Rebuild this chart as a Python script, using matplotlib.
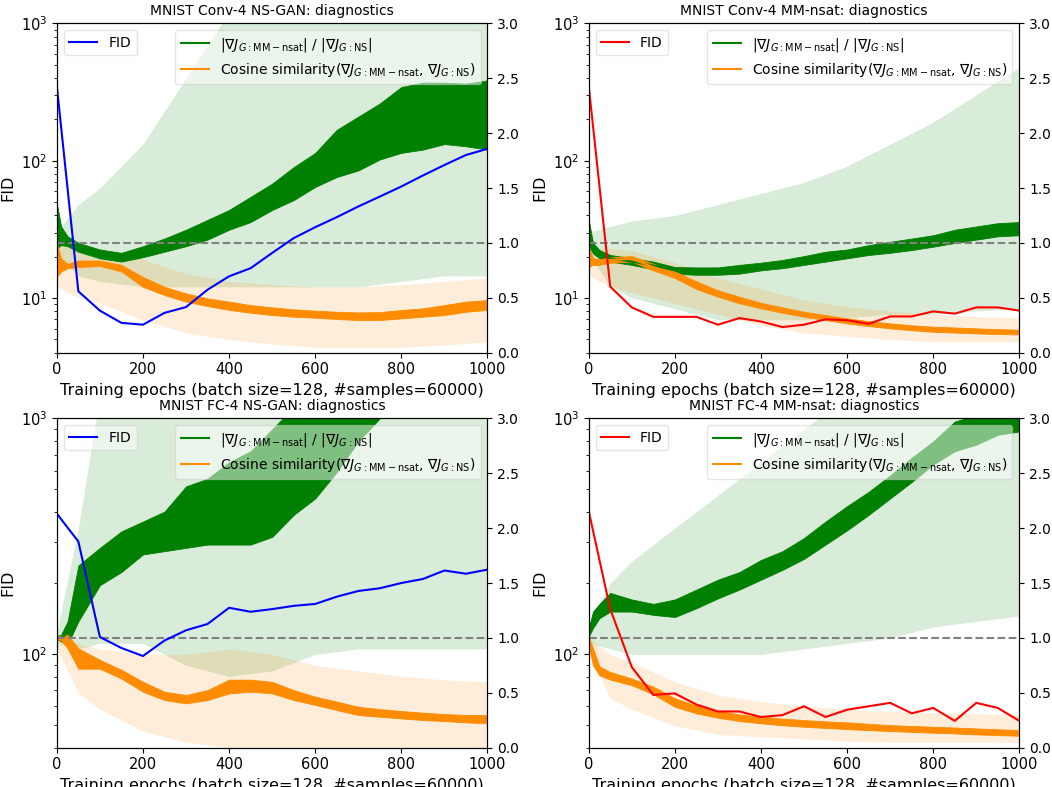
import numpy as np
import matplotlib
matplotlib.use("Agg")
import matplotlib.pyplot as plt
import matplotlib.gridspec as gridspec

# ── FID, evaluated every 50 epochs ──
FID_EPOCHS = [0, 50, 100, 150, 200, 250, 300, 350, 400, 450, 500,
              550, 600, 650, 700, 750, 800, 850, 900, 950, 1000]
FID_CONV_NS = [350, 11.2, 8.1, 6.6, 6.4, 7.8, 8.6, 11.5, 14.4, 16.5, 21.3,
               27.3, 32.8, 38.8, 46.4, 54.8, 64.9, 78, 93, 110, 122]
FID_CONV_MM = [350, 12.1, 8.55, 7.3, 7.3, 7.3, 6.4, 7.15, 6.75, 6.15, 6.4,
               7.0, 6.9, 6.5, 7.35, 7.35, 8.0, 7.7, 8.55, 8.55, 8.1]
FID_FC_NS = [394, 300, 118, 106, 98, 114, 126, 134, 157, 151, 155,
             160, 163, 175, 185, 190, 200, 208, 226, 219, 228]
FID_FC_MM = [404, 155, 88, 67, 68, 61, 57, 57, 54, 55, 60,
             54, 58, 60, 62, 56, 59, 52, 62, 59, 52]

# ── gradient diagnostics: spread of the per-iteration curves (low / high edge) ──
BAND_EPOCHS = [0, 10, 25, 50, 100, 150, 200, 250, 300, 350, 400, 450,
               500, 550, 600, 650, 700, 750, 800, 850, 900, 950, 1000]

RATIO_CONV_NS_LO = [0.95, 0.98, 0.97, 0.92, 0.86, 0.83, 0.87, 0.92, 0.97, 1.03, 1.12, 1.19,
                    1.30, 1.39, 1.51, 1.60, 1.66, 1.76, 1.82, 1.85, 1.90, 1.88, 1.85]
RATIO_CONV_NS_HI = [1.36, 1.15, 1.06, 1.00, 0.94, 0.91, 0.97, 1.04, 1.12, 1.21, 1.30, 1.42,
                    1.54, 1.69, 1.82, 2.03, 2.15, 2.27, 2.42, 2.46, 2.46, 2.45, 2.48]
COS_CONV_NS_LO = [0.69, 0.74, 0.77, 0.78, 0.79, 0.74, 0.60, 0.525, 0.465, 0.425, 0.39, 0.364,
                  0.343, 0.328, 0.319, 0.307, 0.298, 0.298, 0.313, 0.328, 0.343, 0.373, 0.39]
COS_CONV_NS_HI = [1.00, 0.86, 0.81, 0.84, 0.84, 0.80, 0.69, 0.60, 0.54, 0.495, 0.465, 0.434,
                  0.413, 0.395, 0.383, 0.373, 0.367, 0.37, 0.389, 0.404, 0.434, 0.465, 0.48]

RATIO_CONV_MM_LO = [0.97, 0.905, 0.86, 0.83, 0.80, 0.76, 0.72, 0.71, 0.71, 0.72, 0.75, 0.77,
                    0.80, 0.83, 0.86, 0.89, 0.91, 0.935, 0.966, 1.00, 1.03, 1.06, 1.07]
RATIO_CONV_MM_HI = [1.21, 1.00, 0.935, 0.89, 0.86, 0.83, 0.78, 0.777, 0.777, 0.80, 0.82, 0.845,
                    0.88, 0.92, 0.94, 0.98, 1.01, 1.04, 1.07, 1.12, 1.15, 1.18, 1.19]
COS_CONV_MM_LO = [0.78, 0.80, 0.80, 0.82, 0.83, 0.75, 0.68, 0.58, 0.51, 0.45, 0.404, 0.364,
                  0.328, 0.298, 0.267, 0.243, 0.222, 0.205, 0.191, 0.183, 0.176, 0.17, 0.167]
COS_CONV_MM_HI = [0.97, 0.86, 0.85, 0.87, 0.88, 0.81, 0.74, 0.65, 0.57, 0.51, 0.455, 0.413,
                  0.373, 0.343, 0.313, 0.288, 0.267, 0.25, 0.237, 0.23, 0.222, 0.215, 0.21]

RATIO_FC_NS_LO = [0.99, 0.97, 0.94, 1.15, 1.48, 1.60, 1.76, 1.79, 1.82, 1.85, 1.85, 1.85,
                  1.92, 2.12, 2.27, 2.51, 2.79, 3.00, 3.10, 3.20, 3.30, 3.40, 3.50]
RATIO_FC_NS_HI = [1.02, 1.03, 1.15, 1.66, 1.82, 1.97, 2.06, 2.15, 2.38, 2.45, 2.60, 2.70,
                  2.90, 3.10, 3.20, 3.30, 3.40, 3.50, 3.60, 3.70, 3.80, 3.90, 4.00]
COS_FC_NS_LO = [0.99, 0.98, 0.905, 0.72, 0.72, 0.63, 0.51, 0.434, 0.404, 0.434, 0.495, 0.51,
                0.495, 0.434, 0.39, 0.343, 0.298, 0.282, 0.267, 0.252, 0.243, 0.231, 0.222]
COS_FC_NS_HI = [1.02, 1.02, 1.03, 0.905, 0.80, 0.71, 0.60, 0.51, 0.48, 0.525, 0.62, 0.62,
                0.60, 0.525, 0.465, 0.42, 0.373, 0.352, 0.334, 0.319, 0.307, 0.298, 0.298]

RATIO_FC_MM_LO = [1.01, 1.09, 1.18, 1.24, 1.24, 1.21, 1.19, 1.27, 1.36, 1.44, 1.53, 1.62,
                  1.72, 1.85, 1.98, 2.12, 2.27, 2.42, 2.58, 2.70, 2.76, 2.85, 2.88]
RATIO_FC_MM_HI = [1.09, 1.24, 1.31, 1.41, 1.35, 1.31, 1.35, 1.44, 1.53, 1.60, 1.71, 1.79,
                  1.91, 2.06, 2.20, 2.33, 2.48, 2.64, 2.79, 2.97, 3.03, 3.05, 3.10]
COS_FC_MM_LO = [0.935, 0.75, 0.66, 0.62, 0.57, 0.486, 0.373, 0.313, 0.273, 0.243, 0.222, 0.205,
                0.191, 0.18, 0.17, 0.16, 0.152, 0.144, 0.137, 0.13, 0.121, 0.115, 0.109]
COS_FC_MM_HI = [1.01, 0.905, 0.74, 0.69, 0.63, 0.556, 0.45, 0.383, 0.334, 0.304, 0.282, 0.265,
                0.252, 0.24, 0.231, 0.218, 0.206, 0.198, 0.191, 0.184, 0.176, 0.168, 0.161]

# ── mean +/- std shading ──
SHADE_EPOCHS = [0, 50, 100, 200, 300, 400, 500, 600, 700, 800, 900, 1000]

RSTD_CONV_NS_LO = [0.9, 0.7, 0.65, 0.6, 0.6, 0.6, 0.6, 0.6, 0.6, 0.65, 0.7, 0.7]
RSTD_CONV_NS_HI = [1.1, 1.35, 1.5, 1.9, 2.5, 3.1, 3.5, 3.5, 3.5, 3.5, 3.5, 3.5]
CSTD_CONV_NS_LO = [0.6, 0.5, 0.45, 0.3, 0.18, 0.12, 0.08, 0.05, 0.05, 0.05, 0.07, 0.1]
CSTD_CONV_NS_HI = [1.0, 0.95, 0.95, 0.85, 0.72, 0.65, 0.62, 0.6, 0.6, 0.62, 0.65, 0.68]

RSTD_CONV_MM_LO = [0.9, 0.6, 0.5, 0.4, 0.3, 0.3, 0.3, 0.32, 0.35, 0.35, 0.38, 0.4]
RSTD_CONV_MM_HI = [1.1, 1.15, 1.2, 1.25, 1.35, 1.45, 1.55, 1.7, 1.9, 2.1, 2.35, 2.6]
CSTD_CONV_MM_LO = [0.7, 0.6, 0.55, 0.45, 0.35, 0.25, 0.18, 0.15, 0.12, 0.1, 0.1, 0.1]
CSTD_CONV_MM_HI = [0.95, 0.95, 0.93, 0.82, 0.68, 0.58, 0.48, 0.42, 0.38, 0.35, 0.33, 0.32]

RSTD_FC_NS_LO = [0.95, 0.9, 0.95, 0.95, 0.75, 0.65, 0.7, 0.85, 0.9, 0.9, 0.9, 0.9]
RSTD_FC_NS_HI = [1.05, 2.0, 3.2, 3.6, 3.8, 4.0, 4.0, 4.0, 4.0, 4.0, 4.0, 4.0]
CSTD_FC_NS_LO = [0.9, 0.5, 0.35, 0.15, 0.05, 0.0, 0.0, 0.0, 0.0, 0.0, 0.0, 0.0]
CSTD_FC_NS_HI = [1.0, 0.95, 0.9, 0.85, 0.85, 0.9, 0.85, 0.75, 0.7, 0.65, 0.62, 0.6]

RSTD_FC_MM_LO = [0.95, 0.9, 0.85, 0.85, 0.85, 0.85, 0.9, 0.95, 1.0, 1.1, 1.15, 1.2]
RSTD_FC_MM_HI = [1.1, 1.5, 1.7, 2.0, 2.3, 2.6, 2.9, 3.2, 3.5, 3.6, 3.7, 3.8]
CSTD_FC_MM_LO = [0.85, 0.45, 0.35, 0.2, 0.12, 0.1, 0.08, 0.06, 0.05, 0.05, 0.05, 0.05]
CSTD_FC_MM_HI = [1.0, 0.85, 0.78, 0.6, 0.48, 0.42, 0.38, 0.35, 0.33, 0.32, 0.31, 0.3]

R_COL = "green"; C_COL = "darkorange"
R_LAB = r"$|\nabla J_{G:\rm MM-nsat}|$ / $|\nabla J_{G:\rm NS}|$"
C_LAB = r"Cosine similarity($\nabla J_{G:\rm MM-nsat}$, $\nabla J_{G:\rm NS}$)"
XLAB = "Training epochs (batch size=128, #samples=60000)"

plt.rcParams.update({"font.family": "DejaVu Sans", "font.size": 10,
    "xtick.labelsize": 10.5, "ytick.labelsize": 10, "axes.labelsize": 11.5,
    "axes.titlesize": 10, "legend.fontsize": 10})

fig = plt.figure(figsize=(10.52, 7.87), dpi=100, facecolor="white")
gs = gridspec.GridSpec(2, 2, figure=fig, left=0.054, right=0.969,
                       top=0.9704, bottom=0.0499, wspace=0.235, hspace=0.199)


def _panel(ax, title, fid, fid_col, ylo, rlo, rhi, clo, chi, rslo, rshi, cslo, cshi):
    ax2 = ax.twinx()
    # shading first, then the per-iteration spreads
    ax2.fill_between(SHADE_EPOCHS, rslo, rshi, color=R_COL, alpha=0.15, lw=0)
    ax2.fill_between(SHADE_EPOCHS, cslo, cshi, color=C_COL, alpha=0.15, lw=0)
    ax2.fill_between(BAND_EPOCHS, rlo, rhi, color=R_COL, lw=0.6)
    ax2.plot(BAND_EPOCHS, (np.array(rlo) + np.array(rhi)) / 2, color=R_COL,
             lw=1.5, label=R_LAB)
    ax2.fill_between(BAND_EPOCHS, clo, chi, color=C_COL, lw=0.6)
    ax2.plot(BAND_EPOCHS, (np.array(clo) + np.array(chi)) / 2, color=C_COL,
             lw=1.5, label=C_LAB)
    ax2.axhline(1.0, color="gray", ls="--", lw=1.5)
    ax2.set_ylim(0, 3.0)
    ax2.legend(loc="upper right", framealpha=0.5)

    # FID on top of the diagnostics
    ax.set_zorder(ax2.get_zorder() + 1); ax.patch.set_visible(False)
    ax.plot(FID_EPOCHS, fid, color=fid_col, lw=1.5, label="FID")
    ax.set_yscale("log"); ax.set_ylim(ylo, 1000); ax.set_xlim(0, 1000)
    ax.tick_params(axis="y", labelsize=10.5)
    ax.set_ylabel("FID"); ax.set_xlabel(XLAB)
    ax.set_title(title)
    ax.legend(loc="upper left", framealpha=0.5)


_panel(fig.add_subplot(gs[0, 0]), "MNIST Conv-4 NS-GAN: diagnostics", FID_CONV_NS, "blue", 4,
       RATIO_CONV_NS_LO, RATIO_CONV_NS_HI, COS_CONV_NS_LO, COS_CONV_NS_HI,
       RSTD_CONV_NS_LO, RSTD_CONV_NS_HI, CSTD_CONV_NS_LO, CSTD_CONV_NS_HI)
_panel(fig.add_subplot(gs[0, 1]), "MNIST Conv-4 MM-nsat: diagnostics", FID_CONV_MM, "red", 4,
       RATIO_CONV_MM_LO, RATIO_CONV_MM_HI, COS_CONV_MM_LO, COS_CONV_MM_HI,
       RSTD_CONV_MM_LO, RSTD_CONV_MM_HI, CSTD_CONV_MM_LO, CSTD_CONV_MM_HI)
_panel(fig.add_subplot(gs[1, 0]), "MNIST FC-4 NS-GAN: diagnostics", FID_FC_NS, "blue", 40,
       RATIO_FC_NS_LO, RATIO_FC_NS_HI, COS_FC_NS_LO, COS_FC_NS_HI,
       RSTD_FC_NS_LO, RSTD_FC_NS_HI, CSTD_FC_NS_LO, CSTD_FC_NS_HI)
_panel(fig.add_subplot(gs[1, 1]), "MNIST FC-4 MM-nsat: diagnostics", FID_FC_MM, "red", 40,
       RATIO_FC_MM_LO, RATIO_FC_MM_HI, COS_FC_MM_LO, COS_FC_MM_HI,
       RSTD_FC_MM_LO, RSTD_FC_MM_HI, CSTD_FC_MM_LO, CSTD_FC_MM_HI)

fig.savefig("out.png", dpi=100, facecolor="white")
plt.close(fig)
